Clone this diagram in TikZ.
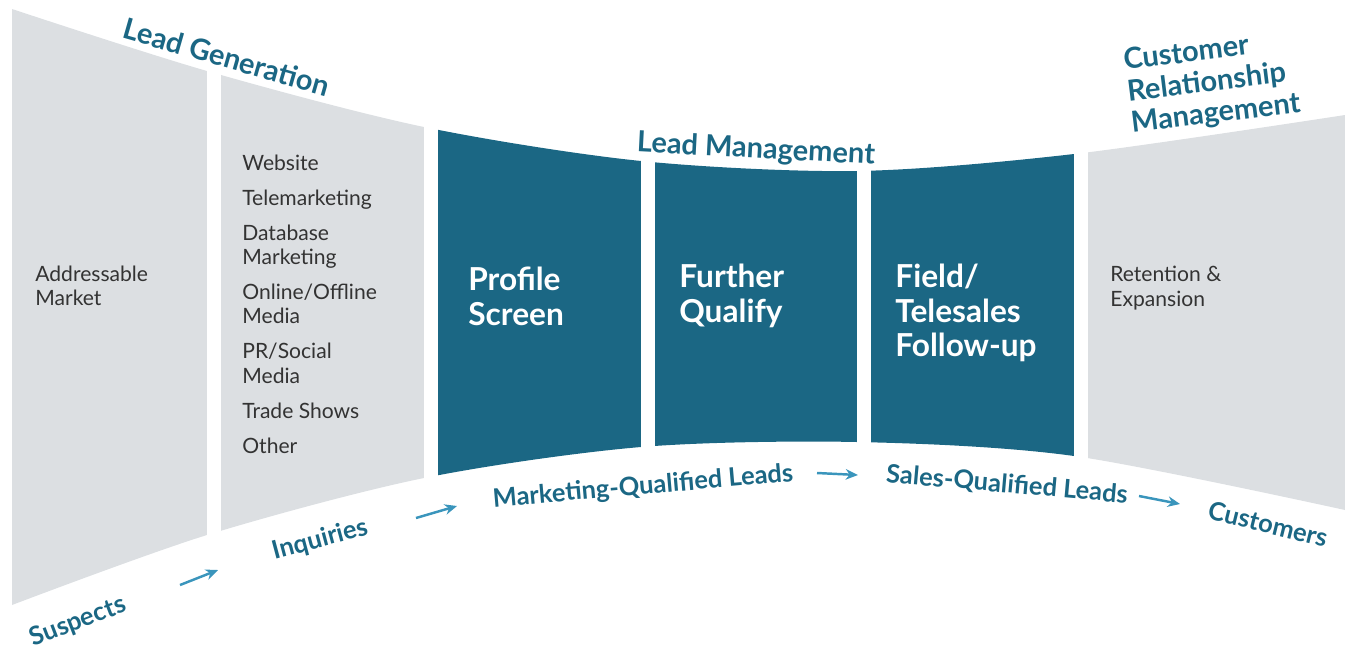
\documentclass[tikz,border=0pt]{standalone}
\usepackage{fontspec}
\setmainfont{Lato}
\usetikzlibrary{arrows.meta,positioning}

\definecolor{leadblue}{HTML}{1B6784}
\definecolor{leadgrey}{HTML}{DCDFE2}
\definecolor{arrowblue}{HTML}{3A95BC}
\definecolor{listgrey}{HTML}{333333}

\begin{document}
\begin{tikzpicture}[x=0.02cm, y=-0.02cm,
    stage/.style={text=leadblue, font=\fontsize{14.5}{17}\selectfont\bfseries, align=left, inner sep=0pt},
    topic/.style={stage, font=\fontsize{16.5}{18}\selectfont\bfseries},
    item/.style={text=listgrey, font=\fontsize{12}{13.9}\selectfont, align=left, inner sep=0pt, anchor=west},
    title/.style={text=white, font=\fontsize{18}{19.8}\selectfont\bfseries, align=left, inner sep=0pt, anchor=west},
    flow/.style={-{Stealth[length=7pt, width=6pt]}, line width=1.4pt, arrowblue}]
    \useasboundingbox (0,0) rectangle (1345,650);

    \begin{scope}
        \clip plot[smooth] coordinates {(12,9) (207,71) (424,127) (641,161) (857,171) (1074,154) (1345,115)}
            -- plot[smooth] coordinates {(1345,510) (1074,456) (857,442) (641,447) (424,478) (207,535) (12,605)} -- cycle;
        \foreach \l/\r/\c in {12/207/leadgrey, 221/424/leadgrey, 438/641/leadblue,
                              655/857/leadblue, 871/1074/leadblue, 1088/1345/leadgrey}
            \fill[\c] (\l,0) rectangle (\r,650);
    \end{scope}

    \node[item] (market) at (35,286) {Addressable\\Market};
    \node[item] (channels) at (242,304) {Website\\[6pt]Telemarketing\\[6pt]Database\\Marketing\\[6pt]Online/Offline\\Media\\[6pt]PR/Social\\Media\\[6pt]Trade Shows\\[6pt]Other};
    \node[title] (profile) at (468,296) {Profile\\Screen};
    \node[title] (qualify) at (679,296) {Further\\Qualify};
    \node[title] (followup) at (895,313) {Field/\\Telesales\\Follow-up};
    \node[item] (retention) at (1110,288) {Retention \&\\Expansion};

    \node[topic, rotate=-16] (generation) at (227,57) {Lead Generation};
    \node[topic, rotate=-3] (management) at (756,150) {Lead Management};
    \node[topic, rotate=7] (crm) at (1212,83) {Customer\\Relationship\\Management};

    \node[stage, rotate=21] (suspects) at (78,622) {Suspects};
    \node[stage, rotate=15] (inquiries) at (320,540) {Inquiries};
    \node[stage, rotate=5] (mql) at (643,487) {Marketing-Qualified Leads};
    \node[stage, rotate=-5] (sql) at (1007,485) {Sales-Qualified Leads};
    \node[stage, rotate=-14] (customers) at (1268,524) {Customers};

    \coordinate (from1) at (180,585); \coordinate (to1) at (218,570);
    \coordinate (from2) at (416,518); \coordinate (to2) at (457,506);
    \coordinate (from3) at (817,473); \coordinate (to3) at (858,475);
    \coordinate (from4) at (1139,496); \coordinate (to4) at (1180,504);

    \path[flow] (from1) edge (to1);
    \path[flow] (from2) edge (to2);
    \path[flow] (from3) edge (to3);
    \path[flow] (from4) edge (to4);
\end{tikzpicture}
\end{document}
